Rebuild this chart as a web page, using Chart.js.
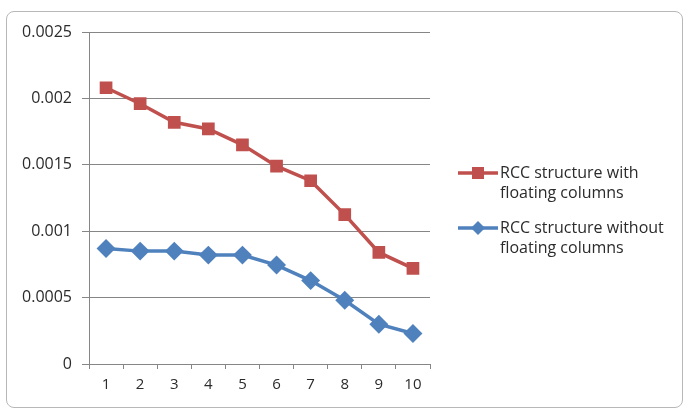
<!DOCTYPE html>
<html>
<head>
<meta charset="utf-8">
<script src="https://cdn.jsdelivr.net/npm/chart.js@4"></script>
<style>
  html, body { margin: 0; padding: 0; background: #fff; }
  #wrap { position: relative; width: 686px; height: 412px; }
  #frame {
    position: absolute; left: 6px; top: 11px; width: 677px; height: 397px;
    border: 1.5px solid #b8b8b8; border-radius: 8px; box-sizing: border-box;
  }
  canvas { position: absolute; left: 0; top: 0; }
</style>
</head>
<body>
<div id="wrap">
  <div id="frame"></div>
  <canvas id="chart" width="686" height="412"></canvas>
</div>
<script>
// storey numbers along the x axis
const categories = ['1', '2', '3', '4', '5', '6', '7', '8', '9', '10'];

// values
const withFloating = [0.00208, 0.00196, 0.00182, 0.00177, 0.00165, 0.00149, 0.00138, 0.001125, 0.00084, 0.00072];
const withoutFloating = [0.00087, 0.00085, 0.00085, 0.00082, 0.00082, 0.000745, 0.000628, 0.00048, 0.0003, 0.00023];

const seriesLabels = [
  ['RCC structure with', 'floating columns'],
  ['RCC structure without', 'floating columns']
];

const yTickValues = [0, 0.0005, 0.001, 0.0015, 0.002, 0.0025];
const yTickLabels = ['0', '0.0005', '0.001', '0.0015', '0.002', '0.0025'];

const FONT = '"Open Sans", Lato, sans-serif';
const GRID = '#868686';

// legend drawn to the right of the plot, with wrapped labels
const sideLegend = {
  id: 'sideLegend',
  afterDraw(chart) {
    const ctx = chart.ctx;
    const rows = [173, 228];
    ctx.save();
    chart.data.datasets.forEach((ds, i) => {
      const y = rows[i];
      ctx.strokeStyle = ds.borderColor;
      ctx.lineWidth = 3.5;
      ctx.beginPath();
      ctx.moveTo(458, y);
      ctx.lineTo(498, y);
      ctx.stroke();
      ctx.fillStyle = ds.pointBackgroundColor;
      ctx.beginPath();
      if (ds.pointStyle === 'rect') {
        ctx.rect(472, y - 6, 12, 12);
      } else {
        ctx.moveTo(478, y - 7);
        ctx.lineTo(485, y);
        ctx.lineTo(478, y + 7);
        ctx.lineTo(471, y);
        ctx.closePath();
      }
      ctx.fill();
      ctx.fillStyle = '#2b2b2b';
      ctx.font = '16px ' + FONT;
      ctx.textBaseline = 'middle';
      ctx.textAlign = 'left';
      ds.label.forEach((line, k) => ctx.fillText(line, 500, y + k * 20));
    });
    ctx.restore();
  }
};

new Chart(document.getElementById('chart'), {
  type: 'line',
  data: {
    labels: categories,
    datasets: [
      {
        label: seriesLabels[0],
        data: withFloating,
        borderColor: '#c0504d',
        backgroundColor: '#c0504d',
        pointBackgroundColor: '#c0504d',
        pointBorderColor: '#c0504d',
        pointStyle: 'rect',
        pointRadius: 6.5,
        borderWidth: 3.5,
        tension: 0
      },
      {
        label: seriesLabels[1],
        data: withoutFloating,
        borderColor: '#4f81bd',
        backgroundColor: '#4f81bd',
        pointBackgroundColor: '#4f81bd',
        pointBorderColor: '#4f81bd',
        pointStyle: 'rectRot',
        pointRadius: 7,
        borderWidth: 3.5,
        tension: 0
      }
    ]
  },
  options: {
    responsive: false,
    animation: false,
    layout: { padding: { left: 0, right: 256, top: 32, bottom: 0 } },
    plugins: {
      legend: { display: false },
      tooltip: { enabled: false }
    },
    scales: {
      x: {
        offset: true,
        grid: {
          offset: true,
          drawOnChartArea: false,
          drawTicks: true,
          tickLength: 5,
          color: GRID
        },
        border: { color: GRID, width: 1 },
        ticks: {
          color: '#2b2b2b',
          font: { family: FONT, size: 15 },
          padding: 7,
          maxRotation: 0
        },
        afterFit(scale) { scale.height = 48; }
      },
      y: {
        min: 0,
        max: 0.0025,
        grid: { color: GRID, tickLength: 7, lineWidth: 1 },
        border: { color: GRID, width: 1 },
        ticks: {
          color: '#2b2b2b',
          font: { family: FONT, size: 16 },
          padding: 10,
          callback: (v, i) => yTickLabels[i]
        },
        afterBuildTicks(scale) {
          scale.ticks = yTickValues.map(v => ({ value: v }));
        },
        afterFit(scale) { scale.width = 89; }
      }
    }
  },
  plugins: [sideLegend]
});
</script>
</body>
</html>
